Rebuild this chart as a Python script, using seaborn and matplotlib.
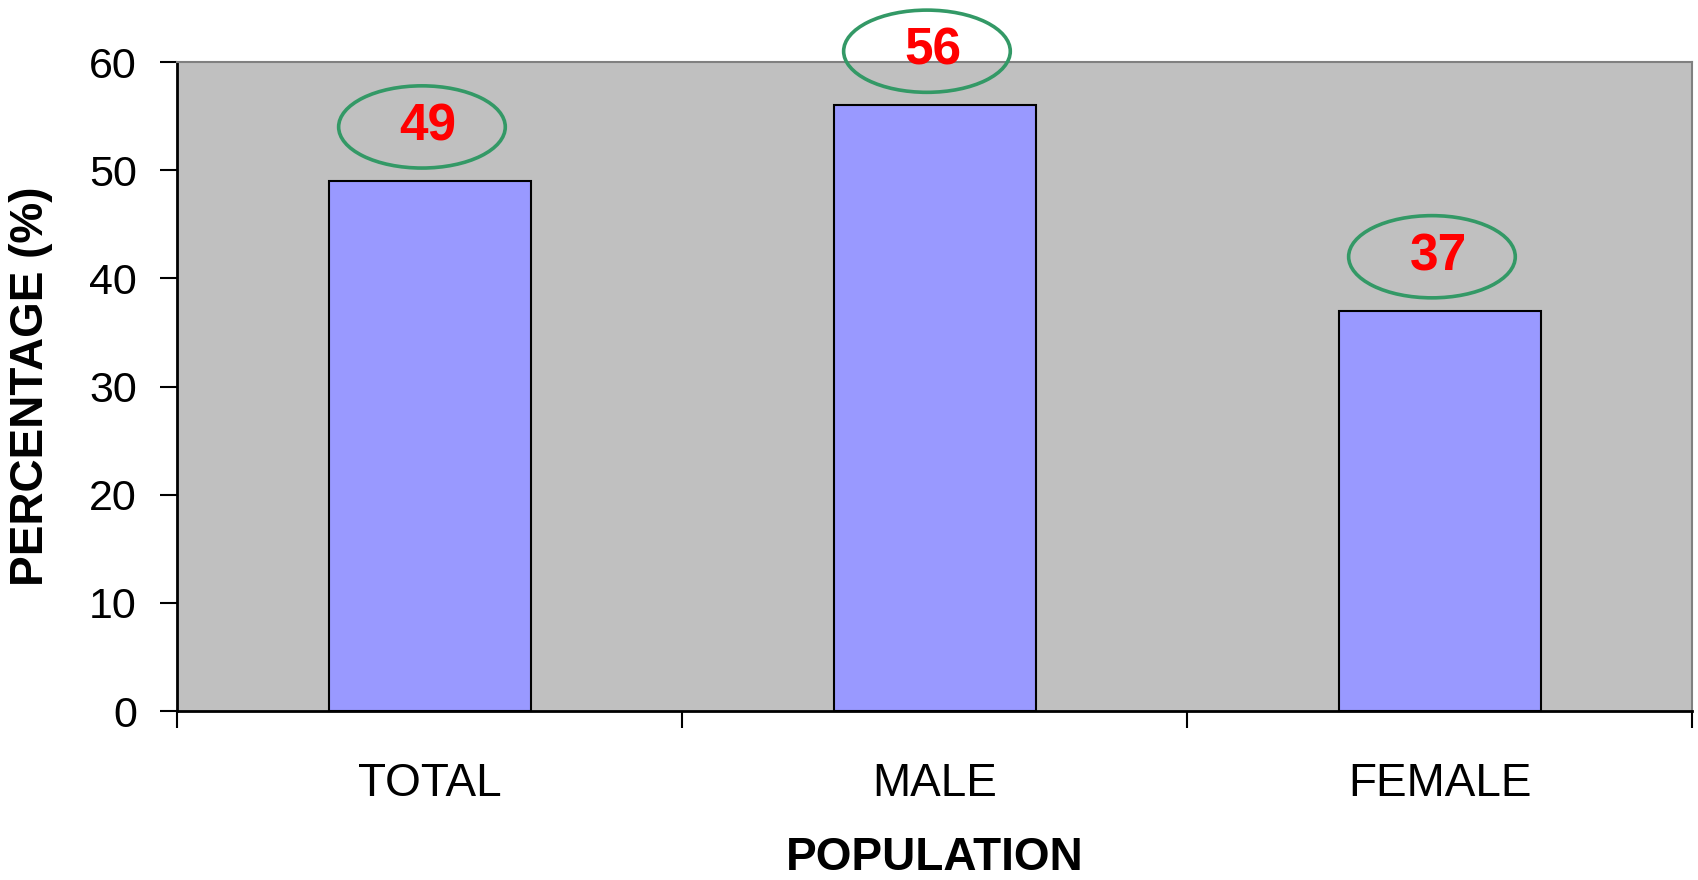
#! python3

# Import Libraries
import numpy as np
import pandas as pd
import matplotlib
matplotlib.use("Agg")
import matplotlib.pyplot as plt
import matplotlib.patches as patches
from matplotlib.ticker import FixedLocator
import seaborn as sns

# Data
categories = ["TOTAL", "MALE", "FEMALE"]
percentages = [49, 56, 37]
y_ticks = [0, 10, 20, 30, 40, 50, 60]

df = pd.DataFrame({"POPULATION": categories, "PERCENTAGE": percentages})

# Style
sns.set_style("white")
plt.rcParams['font.family'] = ['Liberation Sans', 'DejaVu Sans']
plt.rcParams['text.color'] = 'black'
plt.rcParams['axes.labelcolor'] = 'black'

# Draw Plot
fig = plt.figure(figsize=(16.99, 8.8), dpi=100)
ax = fig.add_axes([0.1042, 0.192, 0.8917, 0.7375])
ax.set_facecolor('#C0C0C0')

sns.barplot(data=df, x="POPULATION", y="PERCENTAGE", color="#9999FF",
            edgecolor="black", linewidth=1.5, width=0.4, saturation=1, ax=ax)

# Circled value labels
for i, v in enumerate(percentages):
    yc = v + 5.0
    ell = patches.Ellipse((i - 0.015, yc), 0.33, 7.6, fill=False,
                          edgecolor="#339966", linewidth=2.6, clip_on=False,
                          transform=ax.transData, zorder=5)
    ax.add_patch(ell)
    ax.text(i - 0.003, yc, str(v), color="red", fontsize=37, fontweight="bold",
            ha="center", va="center", zorder=6, clip_on=False)

# Axes
ax.set_xlim(-0.5, 2.5)
ax.set_ylim(0, 60)
ax.set_yticks(y_ticks)
ax.xaxis.set_minor_locator(FixedLocator([-0.5, 0.5, 1.5, 2.5]))
ax.tick_params(axis="x", which="major", length=0, pad=37, labelsize=33,
               labelcolor="black")
ax.tick_params(axis="x", which="minor", length=12, width=1.5, direction="out",
               color="black", bottom=True)
ax.tick_params(axis="y", which="major", length=12, width=1.5, direction="out",
               color="black", left=True, pad=17, labelsize=31,
               labelcolor="black")

for s in ["top", "right"]:
    ax.spines[s].set_color("#808080")
    ax.spines[s].set_linewidth(1.5)
for s in ["left", "bottom"]:
    ax.spines[s].set_color("black")
    ax.spines[s].set_linewidth(2)

# Decoration
ax.set_xlabel("POPULATION", fontsize=33, fontweight="bold")
ax.set_ylabel("PERCENTAGE (%)", fontsize=33, fontweight="bold")
ax.xaxis.set_label_coords(0.5, -0.193)
ax.yaxis.set_label_coords(-0.0818, 0.5)

fig.savefig("out.png", dpi=100, facecolor="white")
